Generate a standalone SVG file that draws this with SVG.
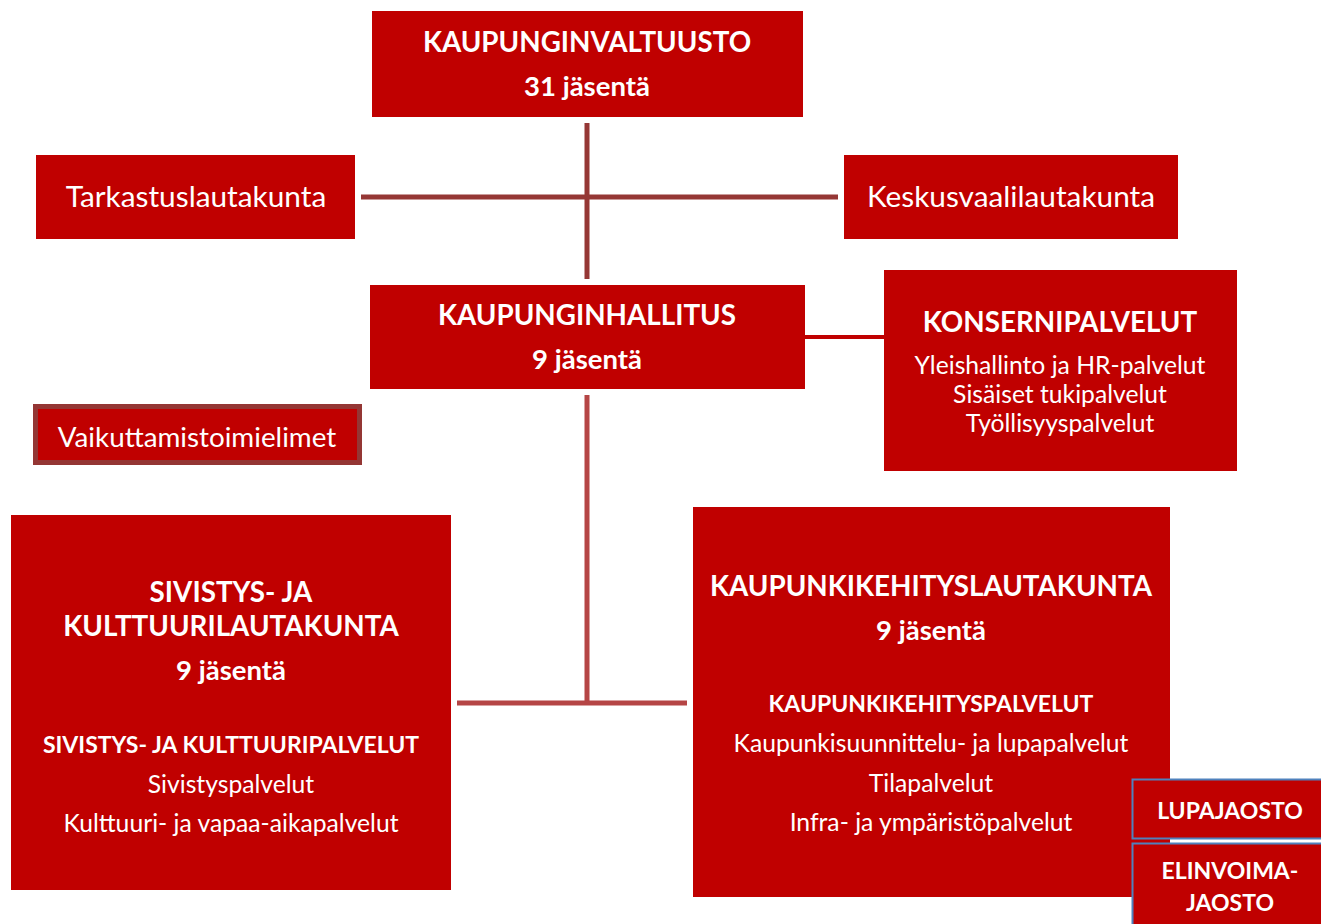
<svg xmlns="http://www.w3.org/2000/svg" width="1321" height="924" viewBox="0 0 1321 924">
<style>
.box{fill:#C00000}
text{font-family:Lato,"Open Sans",sans-serif;fill:#fff;text-anchor:middle}
.b{font-weight:bold}
.h{font-size:27.8px}
.j{font-size:27.5px}
.r{font-size:29.8px}
.v{font-size:27.8px}
.l{font-size:24.7px}
.s{font-size:23px}
.c1{stroke:#953735;stroke-width:5;fill:none}
.c2{stroke:#B54545;stroke-width:5;fill:none}
.c3{stroke:#C00000;stroke-width:4;fill:none}
</style>
<rect width="1321" height="924" fill="#fff"/>
<g id="connectors">
<line class="c1" x1="587" y1="123" x2="587" y2="279"/>
<line class="c1" x1="361" y1="197" x2="838" y2="197"/>
<line class="c3" x1="805" y1="337" x2="884" y2="337"/>
<line class="c2" x1="587" y1="395" x2="587" y2="703"/>
<line class="c2" x1="457" y1="703" x2="687" y2="703"/>
</g>
<g id="valtuusto">
<rect class="box" x="372" y="11" width="431" height="106"/>
<text class="b h" x="587" y="52">KAUPUNGINVALTUUSTO</text>
<text class="b j" x="587" y="96">31 jäsentä</text>
</g>
<g id="tarkastus">
<rect class="box" x="36" y="155" width="319" height="84"/>
<text class="r" x="196" y="207">Tarkastuslautakunta</text>
</g>
<g id="keskusvaali">
<rect class="box" x="844" y="155" width="334" height="84"/>
<text class="r" x="1011" y="207">Keskusvaalilautakunta</text>
</g>
<g id="hallitus">
<rect class="box" x="370" y="285" width="435" height="104"/>
<text class="b h" x="587" y="325">KAUPUNGINHALLITUS</text>
<text class="b j" x="587" y="369">9 jäsentä</text>
</g>
<g id="konserni">
<rect class="box" x="884" y="270" width="353" height="201"/>
<text class="b h" x="1060" y="332">KONSERNIPALVELUT</text>
<text class="l" x="1060" y="374">Yleishallinto ja HR-palvelut</text>
<text class="l" x="1060" y="403">Sisäiset tukipalvelut</text>
<text class="l" x="1060" y="432">Työllisyyspalvelut</text>
</g>
<g id="vaikuttamis">
<rect x="35.5" y="406.5" width="324" height="56" fill="#C00000" stroke="#943634" stroke-width="5"/>
<text class="v" x="197" y="447">Vaikuttamistoimielimet</text>
</g>
<g id="sivistys">
<rect class="box" x="11" y="515" width="440" height="375"/>
<text class="b h" x="231" y="602">SIVISTYS- JA</text>
<text class="b h" x="231" y="636">KULTTUURILAUTAKUNTA</text>
<text class="b j" x="231" y="680">9 jäsentä</text>
<text class="b s" x="231" y="753">SIVISTYS- JA KULTTUURIPALVELUT</text>
<text class="l" x="231" y="793">Sivistyspalvelut</text>
<text class="l" x="231" y="832">Kulttuuri- ja vapaa-aikapalvelut</text>
</g>
<g id="kaupunkikehitys">
<rect class="box" x="693" y="507" width="477" height="390"/>
<text class="b h" x="931" y="596">KAUPUNKIKEHITYSLAUTAKUNTA</text>
<text class="b j" x="931" y="640">9 jäsentä</text>
<text class="b s" x="931" y="712">KAUPUNKIKEHITYSPALVELUT</text>
<text class="l" x="931" y="752">Kaupunkisuunnittelu- ja lupapalvelut</text>
<text class="l" x="931" y="792">Tilapalvelut</text>
<text class="l" x="931" y="831">Infra- ja ympäristöpalvelut</text>
</g>
<g id="lupajaosto">
<rect x="1132.5" y="779.5" width="192" height="59" fill="#C00000" stroke="#4F81BD" stroke-width="2"/>
<text class="b s" x="1230" y="819">LUPAJAOSTO</text>
</g>
<g id="elinvoimajaosto">
<rect x="1132.5" y="843.5" width="192" height="90" fill="#C00000" stroke="#4F81BD" stroke-width="2"/>
<text class="b s" x="1230" y="879">ELINVOIMA-</text>
<text class="b s" x="1230" y="911">JAOSTO</text>
</g>
</svg>
